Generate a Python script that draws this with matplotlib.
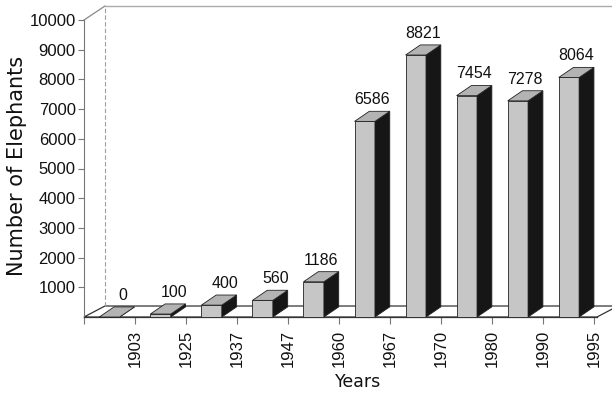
import matplotlib
matplotlib.use("Agg")
import matplotlib.pyplot as plt
from matplotlib.patches import Polygon
import numpy as np

years = ["1903", "1925", "1937", "1947", "1960", "1967", "1970", "1980", "1990", "1995"]
elephants = [0, 100, 400, 560, 1186, 6586, 8821, 7454, 7278, 8064]
yticks = [1000, 2000, 3000, 4000, 5000, 6000, 7000, 8000, 9000, 10000]

W, H = 612, 395
fig = plt.figure(figsize=(W / 100, H / 100), dpi=100)
ax = fig.add_axes([84 / W, 78 / H, 513 / W, 297 / H])
ax.set_xlim(-0.5, 9.55)
ax.set_ylim(0, 10000)

num_font = "Liberation Sans"
lab_font = "DejaVu Sans"

front_c = "#c6c6c6"
top_c = "#b3b3b3"
side_c = "#161616"
edge = "#222222"

bw = 0.4      # front width (category units)
bdx = 0.29    # bar depth x
bdy = 340     # bar depth y (value units)
fdx = 0.41    # floor depth x
fdy = 370     # floor depth y

# floor
floor = Polygon([(-0.5, 0), (9.55, 0), (9.55 + fdx, fdy), (-0.5 + fdx, fdy)],
                closed=True, facecolor="white", edgecolor="#333333", lw=0.9,
                clip_on=False, zorder=1)
ax.add_patch(floor)
# back wall
ax.plot([-0.5 + fdx, -0.5 + fdx], [fdy, 10470], color="#a0a0a0", lw=0.8,
        ls=(0, (4, 2)), clip_on=False, zorder=1)
ax.plot([-0.5, -0.5 + fdx], [10000, 10470], color="#888888", lw=0.9,
        clip_on=False, zorder=1)
ax.plot([-0.5 + fdx, 10.5], [10470, 10470], color="#aaaaaa", lw=1.0,
        clip_on=False, zorder=1)

x = np.arange(len(years))
ax.bar(x, elephants, width=bw, color=front_c, edgecolor=edge, lw=0.6, zorder=3)
for xi, v in zip(x, elephants):
    l, r = xi - bw / 2, xi + bw / 2
    top = Polygon([(l, v), (r, v), (r + bdx, v + bdy), (l + bdx, v + bdy)],
                  closed=True, facecolor=top_c, edgecolor=edge, lw=0.6, zorder=3,
                  clip_on=False)
    side = Polygon([(r, 0), (r + bdx, bdy), (r + bdx, v + bdy), (r, v)],
                   closed=True, facecolor=side_c, edgecolor=edge, lw=0.6, zorder=3,
                   clip_on=False)
    ax.add_patch(side)
    ax.add_patch(top)
    ax.annotate(str(v), (xi + bdx / 2 + (0.12 if v < 1000 else 0), v + bdy),
                xytext=(0, 3), textcoords="offset points", ha="center",
                va="bottom", fontsize=11.5, family=num_font, color="#111111",
                zorder=5)

for s in ["top", "right"]:
    ax.spines[s].set_visible(False)
ax.spines["left"].set_color("#777777")
ax.spines["left"].set_linewidth(0.8)
ax.spines["bottom"].set_color("#333333")
ax.spines["bottom"].set_linewidth(0.9)

ax.set_yticks(yticks)
ax.set_yticklabels([str(t) for t in yticks], fontsize=12, family=num_font,
                   color="#111111")
ax.tick_params(axis="y", length=4, width=0.8, pad=2, color="#777777")

ax.set_xticks(x + 0.5)
ax.set_xticklabels(years, rotation=90, fontsize=12, family=num_font,
                   color="#111111", va="top", ha="center")
ax.set_xticks([-0.5], minor=True)
ax.tick_params(axis="x", which="both", length=5, width=0.8, pad=4, color="#777777")

fig.text(17 / W, 1 - 166 / H, "Number of Elephants", rotation=90, ha="center",
         va="center", fontsize=15, family=lab_font, color="#111111")
fig.text(358 / W, 1 - 382 / H, "Years", ha="center", va="center",
         fontsize=12.5, family=lab_font, color="#111111")

fig.savefig("out.png", dpi=100)
